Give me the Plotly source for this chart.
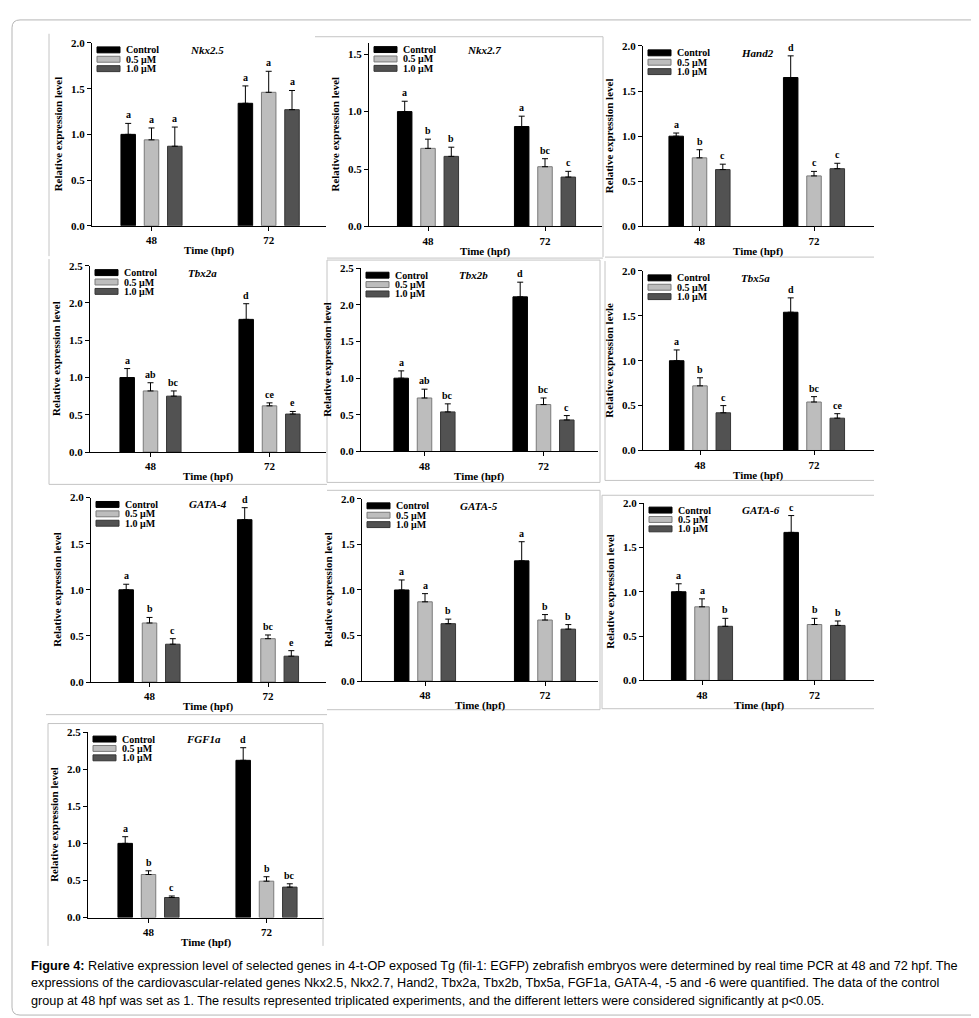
import plotly.graph_objects as go

W, H = 979, 1018

groups = ["48", "72"]
series = ["Control", "0.5 μM", "1.0 μM"]

# rows: Control, 0.5 μM, 1.0 μM ; columns: 48 hpf, 72 hpf
nkx25_mean = [[1.00, 1.34], [0.94, 1.46], [0.87, 1.27]]
nkx25_err = [[0.12, 0.19], [0.13, 0.23], [0.21, 0.21]]
nkx25_sig = [["a", "a"], ["a", "a"], ["a", "a"]]

nkx27_mean = [[1.00, 0.87], [0.68, 0.52], [0.61, 0.43]]
nkx27_err = [[0.09, 0.09], [0.08, 0.07], [0.08, 0.05]]
nkx27_sig = [["a", "a"], ["b", "bc"], ["b", "c"]]

hand2_mean = [[1.00, 1.65], [0.76, 0.56], [0.63, 0.64]]
hand2_err = [[0.035, 0.24], [0.09, 0.05], [0.06, 0.06]]
hand2_sig = [["a", "d"], ["b", "c"], ["c", "c"]]

tbx2a_mean = [[1.00, 1.78], [0.82, 0.62], [0.75, 0.51]]
tbx2a_err = [[0.12, 0.21], [0.11, 0.04], [0.07, 0.035]]
tbx2a_sig = [["a", "d"], ["ab", "ce"], ["bc", "e"]]

tbx2b_mean = [[1.00, 2.11], [0.73, 0.64], [0.54, 0.43]]
tbx2b_err = [[0.10, 0.20], [0.12, 0.09], [0.11, 0.06]]
tbx2b_sig = [["a", "d"], ["ab", "bc"], ["bc", "c"]]

tbx5a_mean = [[1.00, 1.54], [0.72, 0.54], [0.42, 0.36]]
tbx5a_err = [[0.12, 0.16], [0.09, 0.06], [0.08, 0.05]]
tbx5a_sig = [["a", "d"], ["b", "bc"], ["c", "ce"]]

gata4_mean = [[1.00, 1.76], [0.64, 0.47], [0.41, 0.28]]
gata4_err = [[0.06, 0.13], [0.06, 0.04], [0.06, 0.06]]
gata4_sig = [["a", "d"], ["b", "bc"], ["c", "e"]]

gata5_mean = [[1.00, 1.32], [0.87, 0.67], [0.63, 0.57]]
gata5_err = [[0.11, 0.21], [0.09, 0.06], [0.05, 0.05]]
gata5_sig = [["a", "a"], ["a", "b"], ["b", "b"]]

gata6_mean = [[1.00, 1.67], [0.83, 0.63], [0.61, 0.62]]
gata6_err = [[0.09, 0.19], [0.09, 0.07], [0.09, 0.05]]
gata6_sig = [["a", "c"], ["a", "b"], ["b", "b"]]

fgf1a_mean = [[1.00, 2.12], [0.58, 0.49], [0.27, 0.41]]
fgf1a_err = [[0.09, 0.17], [0.05, 0.06], [0.02, 0.045]]
fgf1a_sig = [["a", "d"], ["b", "b"], ["c", "bc"]]

ytitle = "Relative expression level"
panels = [
    ("Nkx2.5", nkx25_mean, nkx25_err, nkx25_sig, 2.0, ytitle),
    ("Nkx2.7", nkx27_mean, nkx27_err, nkx27_sig, 1.6, ytitle),
    ("Hand2", hand2_mean, hand2_err, hand2_sig, 2.0, ytitle),
    ("Tbx2a", tbx2a_mean, tbx2a_err, tbx2a_sig, 2.5, ytitle),
    ("Tbx2b", tbx2b_mean, tbx2b_err, tbx2b_sig, 2.5, ytitle),
    ("Tbx5a", tbx5a_mean, tbx5a_err, tbx5a_sig, 2.0, "Relative expression levle"),
    ("GATA-4", gata4_mean, gata4_err, gata4_sig, 2.0, ytitle),
    ("GATA-5", gata5_mean, gata5_err, gata5_sig, 2.0, ytitle),
    ("GATA-6", gata6_mean, gata6_err, gata6_sig, 2.0, ytitle),
    ("FGF1a", fgf1a_mean, fgf1a_err, fgf1a_sig, 2.5, ytitle),
]

caption_lines = [
    "<b>Figure 4:</b> Relative expression level of selected genes in 4-t-OP exposed Tg (fil-1: EGFP) "
    "zebrafish embryos were determined by real time PCR at 48 and 72 hpf. The",
    "expressions of the cardiovascular-related genes Nkx2.5, Nkx2.7, Hand2, Tbx2a, Tbx2b, Tbx5a, "
    "FGF1a, GATA-4, -5 and -6 were quantified. The data of the control",
    "group at 48 hpf was set as 1. The results represented triplicated experiments, and the "
    "different letters were considered significantly at p&lt;0.05.",
]

# layout geometry in pixels: left, right, top, bottom of plot area, centre of 48 and 72 groups
geom = [
    (84, 318, 29.3, 214.3, 143.5, 260.7),
    (361, 594, 29.0, 215.0, 420.0, 537.0),
    (635, 866, 32.3, 215.0, 691.5, 806.0),
    (82, 318, 254.7, 443.3, 142.5, 261.5),
    (353, 590, 257.3, 442.7, 416.5, 535.5),
    (635, 866, 260.0, 441.7, 692.0, 806.0),
    (83, 318, 489.3, 676.0, 141.5, 260.0),
    (354, 590, 490.7, 675.0, 417.0, 537.0),
    (636, 866, 495.0, 674.3, 694.0, 806.5),
    (80, 316, 726.7, 914.3, 140.5, 258.5),
]

fills = ["#000000", "#bdbdbd", "#525252"]
edges = ["#000000", "#7a7a7a", "#363636"]
SERIF = "Liberation Serif"
GRAY = "#c4c4c4"


def xp(px):
    return px / W


def yp(py):
    return 1 - py / H


fig = go.Figure()
annotations = []
shapes = []

for i, (gene, mean, err, sig, ymax, yt) in enumerate(panels):
    n = i + 1
    ax = "" if n == 1 else str(n)
    L, R, T, B, c48, c72 = geom[i]
    s = c72 - c48
    du = 23.3 / s
    wu = 14.5 / s
    for k in range(3):
        fig.add_trace(go.Bar(
            x=[0, 1], y=mean[k], name=series[k],
            width=wu, offset=(k - 1) * du - wu / 2,
            xaxis="x" + ax, yaxis="y" + ax,
            marker=dict(color=fills[k], line=dict(color=edges[k], width=1)),
            error_y=dict(type="data", symmetric=False, array=err[k],
                         arrayminus=[0, 0], color="black", thickness=1, width=3),
            showlegend=False,
        ))
        for g in range(2):
            annotations.append(dict(
                x=g + (k - 1) * du, y=mean[k][g] + err[k][g],
                xref="x" + ax, yref="y" + ax, text=sig[k][g], showarrow=False,
                yanchor="bottom", xanchor="center", yshift=1,
                font=dict(family=SERIF, size=10, color="black", weight="bold"),
            ))
    axfont = dict(family=SERIF, size=11, color="black", weight="bold")
    fig.layout["xaxis" + ax] = dict(
        domain=[xp(L), xp(R)], range=[(L - c48) / s, (R - c48) / s],
        anchor="y" + ax, tickvals=[0, 1], ticktext=groups,
        showline=True, linecolor="black", linewidth=1, ticks="outside",
        ticklen=4, tickcolor="black", showgrid=False, zeroline=False,
        tickfont=axfont, fixedrange=True,
    )
    fig.layout["yaxis" + ax] = dict(
        domain=[yp(B), yp(T)], range=[0, ymax], anchor="x" + ax,
        dtick=0.5, tick0=0, tickformat=".1f",
        showline=True, linecolor="black", linewidth=1, ticks="outside",
        ticklen=4, tickcolor="black", showgrid=False, zeroline=False,
        tickfont=axfont, fixedrange=True,
    )
    # axis titles
    annotations.append(dict(
        x=xp(L - 34), y=yp((T + B) / 2), xref="paper", yref="paper",
        text=yt, textangle=-90, showarrow=False, xanchor="center", yanchor="middle",
        font=dict(family=SERIF, size=11, color="black", weight="bold"),
    ))
    annotations.append(dict(
        x=xp((L + R) / 2), y=yp(B + 25), xref="paper", yref="paper",
        text="Time (hpf)", showarrow=False, xanchor="center", yanchor="middle",
        font=dict(family=SERIF, size=11, color="black", weight="bold"),
    ))
    # gene label
    annotations.append(dict(
        x=xp(L + 96), y=yp(T + 7), xref="paper", yref="paper",
        text=gene, showarrow=False, xanchor="left", yanchor="middle",
        font=dict(family=SERIF, size=11, color="black", weight="bold", style="italic"),
    ))
    # legend
    for k in range(3):
        ry = T + 7 + k * 9.5
        shapes.append(dict(
            type="rect", xref="paper", yref="paper",
            x0=xp(L + 5), x1=xp(L + 28), y0=yp(ry - 3), y1=yp(ry + 3),
            fillcolor=fills[k], line=dict(color=edges[k], width=1),
        ))
        annotations.append(dict(
            x=xp(L + 32), y=yp(ry), xref="paper", yref="paper",
            text=series[k], showarrow=False, xanchor="left", yanchor="middle",
            font=dict(family=SERIF, size=10, color="black", weight="bold"),
        ))

# panel frame lines (light gray), pixel coordinates
frame_lines = [
    (41, 20, 41, 245),
    (307, 23, 595, 23), (595, 23, 595, 246), (319, 247, 595, 247),
    (597, 246, 866, 246),
    (41, 248, 41, 476), (41, 476, 319, 476),
    (319, 249, 592, 249), (319, 249, 319, 474), (592, 249, 592, 474), (319, 474, 592, 474),
    (597, 250, 597, 472), (597, 472, 866, 472),
    (38, 709, 319, 709),
    (319, 482, 592, 482), (592, 482, 592, 704), (319, 704, 592, 704),
    (594, 487, 594, 703), (594, 487, 866, 487), (594, 703, 866, 703),
    (40, 718, 315, 718), (40, 718, 40, 943), (315, 718, 315, 943),
]
for (x0, y0, x1, y1) in frame_lines:
    shapes.append(dict(type="line", xref="paper", yref="paper",
                       x0=xp(x0), y0=yp(y0), x1=xp(x1), y1=yp(y1),
                       line=dict(color=GRAY, width=1)))

# outer rounded border
bx0, by0, bx1, by1, r = 4, 6, 974, 1013, 8
rx, ry_ = r / W, r / H
X0, X1, Y0, Y1 = xp(bx0), xp(bx1), yp(by0), yp(by1)
path = (f"M {X0+rx},{Y0} L {X1-rx},{Y0} Q {X1},{Y0} {X1},{Y0-ry_} "
        f"L {X1},{Y1+ry_} Q {X1},{Y1} {X1-rx},{Y1} L {X0+rx},{Y1} "
        f"Q {X0},{Y1} {X0},{Y1+ry_} L {X0},{Y0-ry_} Q {X0},{Y0} {X0+rx},{Y0} Z")
shapes.append(dict(type="path", xref="paper", yref="paper", path=path,
                   line=dict(color="#b5b5b5", width=1)))

for j, line in enumerate(caption_lines):
    annotations.append(dict(
        x=xp(21), y=yp(963 + 18 * j), xref="paper", yref="paper", text=line,
        showarrow=False, xanchor="left", yanchor="middle", align="left",
        font=dict(family="Liberation Sans, Arial, sans-serif", size=12.7, color="black"),
    ))

fig.update_layout(
    width=W, height=H, autosize=False,
    margin=dict(l=0, r=0, t=0, b=0),
    paper_bgcolor="white", plot_bgcolor="white",
    barmode="overlay", showlegend=False,
    annotations=annotations, shapes=shapes,
)

fig.write_html("out.html")
